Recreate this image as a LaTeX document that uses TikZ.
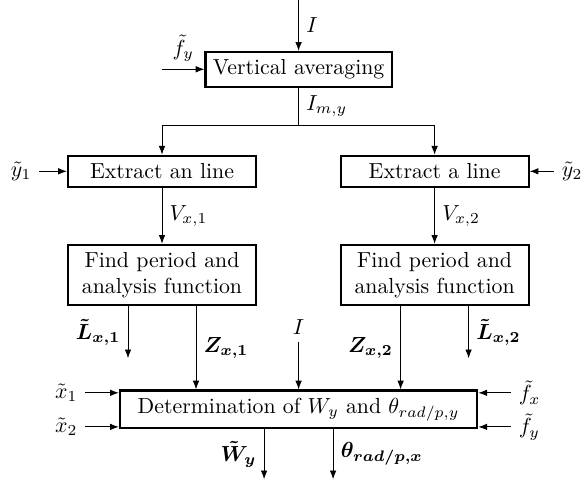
\documentclass[tikz,border=0pt]{standalone}
\usepackage{bm}
\usetikzlibrary{arrows.meta,positioning,calc}

\begin{document}
\begin{tikzpicture}[
  bloque/.style={rectangle, draw, line width=1pt, align=center, minimum width=30.3mm},
  flecha/.style={-{Latex[length=4pt, width=3pt]}}
]
\useasboundingbox (0,0) rectangle (9.46,7.75);
% bloques
\node[bloque, minimum width=0pt, minimum height=5.6mm] (avg) at (4.812,6.633) {Vertical averaging};
\node[bloque, minimum height=5mm] (ext1) at (2.611,4.989) {Extract an line};
\node[bloque, minimum height=5mm] (ext2) at (7.004,4.989) {Extract a line};
\node[bloque, below=9mm of ext1] (find1) {Find period and\\analysis function};
\node[bloque, below=9mm of ext2] (find2) {Find period and\\analysis function};
\node[bloque, minimum width=57.6mm, minimum height=6mm] (det) at (4.812,1.153) {Determination of $W_y$ and $\theta_{rad/p,y}$};
% entradas
\coordinate (itop) at (4.812,7.754);
\coordinate (fyin) at (2.611,6.633);
\coordinate (y1in) at (0.629,4.989);
\coordinate (y2in) at (8.93,4.989);
\coordinate (imid) at (4.812,2.241);
\coordinate (x1in) at (1.37,1.419);
\coordinate (x2in) at (1.37,0.870);
\coordinate (fxin) at (8.237,1.419);
\coordinate (fy2in) at (8.237,0.870);
\coordinate (l1) at ($(find1.south)+(-0.548,0)$);
\coordinate (z1) at ($(find1.south)+(0.548,0)$);
\coordinate (z2) at ($(find2.south)+(-0.548,0)$);
\coordinate (l2) at ($(find2.south)+(0.548,0)$);
\coordinate (w) at ($(det.south)+(-0.556,0)$);
\coordinate (th) at ($(det.south)+(0.556,0)$);
% flechas
\draw[flecha] (itop) -- node[right]{$I$} (avg.north);
\draw[flecha] (fyin) -- node[above]{$\tilde{f}_y$} (fyin -| avg.west);
\draw[flecha] (avg.south) -- node[right]{$I_{m,y}$} ++(0,-0.6) coordinate (junc) -| (ext1.north);
\draw[flecha] (junc) -| (ext2.north);
\draw[flecha] (y1in) node[left]{$\tilde{y}_1$} -- (ext1.west);
\draw[flecha] (y2in) node[right]{$\tilde{y}_2$} -- (ext2.east);
\draw[flecha] (ext1) -- node[right]{$V_{x,1}$} (find1);
\draw[flecha] (ext2) -- node[right]{$V_{x,2}$} (find2);
\draw[flecha] (l1) -- node[left]{$\bm{\tilde{L}_{x,1}}$} ++(0,-0.838);
\draw[flecha] (l2) -- node[right]{$\bm{\tilde{L}_{x,2}}$} ++(0,-0.838);
\draw[flecha] (z1) -- node[right]{$\bm{Z_{x,1}}$} (z1 |- det.north);
\draw[flecha] (z2) -- node[left]{$\bm{Z_{x,2}}$} (z2 |- det.north);
\draw[flecha] (imid) node[above]{$I$} -- (det.north);
\draw[flecha] (x1in) node[left]{$\tilde{x}_1$} -- (x1in -| det.west);
\draw[flecha] (x2in) node[left]{$\tilde{x}_2$} -- (x2in -| det.west);
\draw[flecha] (fxin) node[right]{$\tilde{f}_x$} -- (fxin -| det.east);
\draw[flecha] (fy2in) node[right]{$\tilde{f}_y$} -- (fy2in -| det.east);
\draw[flecha] (w) -- node[left]{$\bm{\tilde{W}_y}$} ++(0,-0.806);
\draw[flecha] (th) -- node[right]{$\bm{\theta_{rad/p,x}}$} ++(0,-0.806);
\end{tikzpicture}
\end{document}
